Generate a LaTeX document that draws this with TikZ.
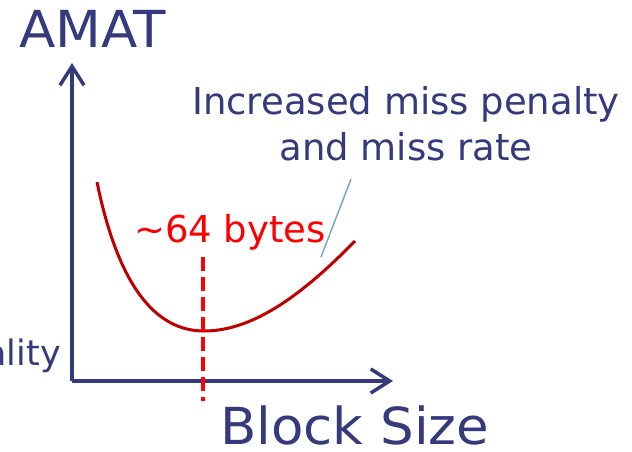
\documentclass[tikz,border=0pt]{standalone}
\usepackage{fontspec}
\setmainfont{DejaVu Sans}
\newfontfamily\widefont[FakeStretch=1.04]{DejaVu Sans}
\usetikzlibrary{arrows.meta}
\definecolor{navy}{RGB}{52,58,124}
\definecolor{darkred}{RGB}{192,0,0}
\definecolor{lightblue}{RGB}{125,165,205}

\begin{document}
\begin{tikzpicture}[x=1pt,y=-1pt]
    \useasboundingbox (0,0) rectangle (632,451);

    \coordinate (O) at (72,381);
    \coordinate (Y) at (72,63);
    \coordinate (X) at (393,381);
    \coordinate (L) at (97,182);
    \coordinate (M) at (204,331);
    \coordinate (R) at (355,241);
    \coordinate (T) at (203,257);
    \coordinate (B) at (203,401);
    \coordinate (P) at (351,179);
    \coordinate (Q) at (321,257);

    \node[anchor=base west, inner sep=0, text=navy, font=\widefont\fontsize{51}{60}\selectfont] (amat) at (19,47) {AMAT};
    \node[anchor=base west, inner sep=0, text=navy, font=\widefont\fontsize{51}{60}\selectfont] (bsize) at (220,444) {Block Size};
    \node[anchor=base east, inner sep=0, text=navy, font=\fontsize{35}{45}\selectfont] (loc) at (61,365) {ality};
    \node[anchor=base, inner sep=0, text=red, font=\fontsize{37}{45}\selectfont] (bytes) at (230,242) {\textasciitilde64 bytes};
    \node[anchor=north, inner sep=0, align=center, text=navy, font=\fontsize{37}{46}\selectfont] (pen) at (406,86) {Increased miss penalty\\and miss rate};

    \path [-, line width=3.5pt, navy, -{Straight Barb[length=19pt,width=24pt]}](O) edge (Y);
    \path [-, line width=3.5pt, navy, -{Straight Barb[length=19pt,width=24pt]}](O) edge (X);
    \draw [line width=3pt, darkred] (L) .. controls (118,285) and (155,331) .. (M)
        .. controls (255,331) and (305,292) .. (R);
    \path [-, line width=4pt, red, dash pattern=on 14pt off 6pt](T) edge (B);
    \path [-, line width=1.5pt, lightblue](P) edge (Q);

\end{tikzpicture}
\end{document}
